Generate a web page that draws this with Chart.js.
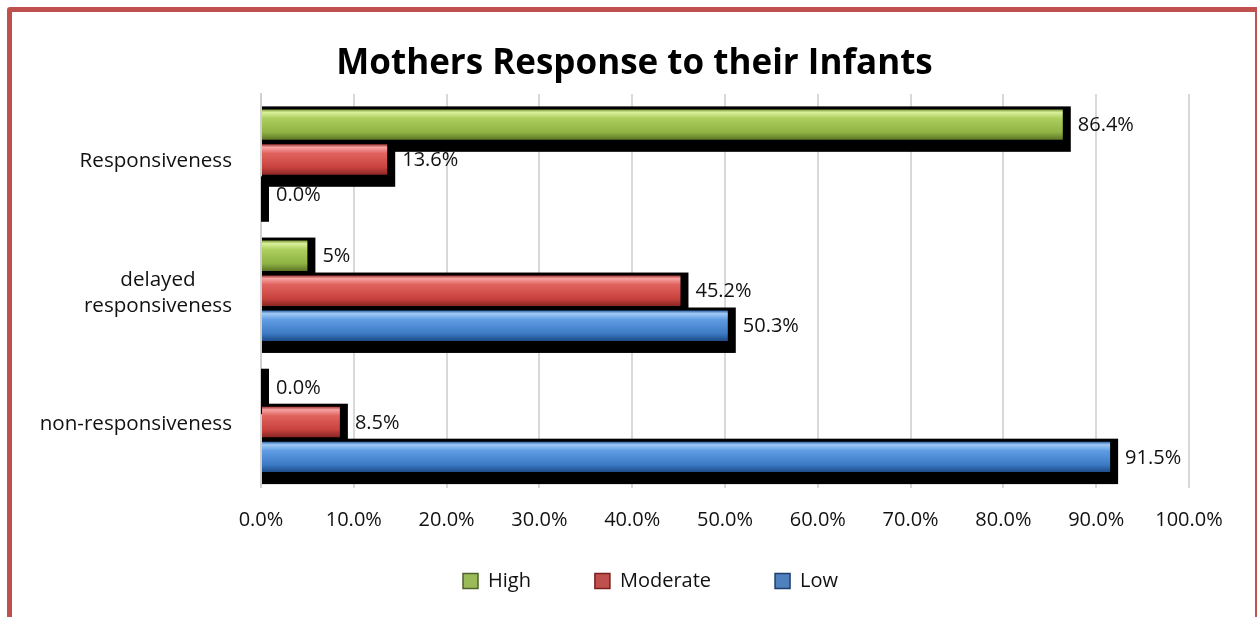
<!DOCTYPE html>
<html><head><meta charset="utf-8">
<script src="https://cdn.jsdelivr.net/npm/chart.js@4.4.1/dist/chart.umd.min.js"></script>
<style>
html,body{margin:0;padding:0;background:#fff;overflow:hidden;}
#wrap{position:relative;width:1257px;height:617px;}
#frame{position:absolute;left:7px;top:7px;width:1253px;height:620px;box-sizing:border-box;border:5px solid #c0504d;border-radius:3px;pointer-events:none;}
canvas{position:absolute;left:0;top:0;}
</style></head><body>
<div id="wrap"><canvas id="c" width="1257" height="617"></canvas><div id="frame"></div></div>
<script>
// ---- data ----
const categories = ['Responsiveness', ['delayed', 'responsiveness'], 'non-responsiveness'];
const seriesNames = ['High', 'Moderate', 'Low'];
const highValues = [86.4, 5, 0.0];
const moderateValues = [13.6, 45.2, 8.5];
const lowValues = [0.0, 50.3, 91.5];
const highLabels = ['86.4%', '5%', '0.0%'];
const moderateLabels = ['13.6%', '45.2%', '8.5%'];
const lowLabels = ['0.0%', '50.3%', '91.5%'];
const xMin = 0, xMax = 100, xStep = 10;
const titleText = 'Mothers Response to their Infants';

// ---- styles ----
const FONT = '"Open Sans", sans-serif';
const styles = {
  High: {color: '#9bbb59', edge: '#4f6228', stops: [[0,'#7f9a3a'],[0.1,'#d9f09a'],[0.3,'#acce5e'],[0.75,'#90b345'],[1,'#5c7526']]},
  Moderate: {color: '#c0504d', edge: '#7a1f1c', stops: [[0,'#a33b38'],[0.1,'#f6a3a1'],[0.3,'#e0625e'],[0.75,'#c9433f'],[1,'#8a2724']]},
  Low: {color: '#4f81bd', edge: '#1f3f6e', stops: [[0,'#2f63a6'],[0.1,'#9fcaf5'],[0.3,'#5f9ce2'],[0.75,'#3d7bc6'],[1,'#1d4c88']]}
};

const valueLists = [highValues, moderateValues, lowValues];
const labelLists = [highLabels, moderateLabels, lowLabels];

const barDecor = {
  id: 'barDecor',
  afterLayout(chart) {
    if (chart.legend) {
      chart.legend.left += 16; chart.legend.right += 16;
      chart.legend.top -= 28.5; chart.legend.bottom -= 28.5;
    }
  },
  beforeDatasetsDraw(chart) {
    const ctx = chart.ctx;
    ctx.save();
    ctx.fillStyle = '#000';
    chart.data.datasets.forEach((ds, di) => {
      chart.getDatasetMeta(di).data.forEach(el => {
        const {x, y, base, height} = el.getProps(['x', 'y', 'base', 'height'], true);
        ctx.fillRect(base, y - height / 2 - 3, x - base + 8, height + 15);
      });
    });
    ctx.restore();
    chart.data.datasets.forEach((ds, di) => {
      const st = styles[ds.label];
      chart.getDatasetMeta(di).data.forEach(el => {
        const {y, height} = el.getProps(['y', 'height'], true);
        const g = ctx.createLinearGradient(0, y - height / 2, 0, y + height / 2);
        st.stops.forEach(([o, c]) => g.addColorStop(o, c));
        el.options = Object.assign({}, el.options, {backgroundColor: g});
      });
    });
  },
  afterDatasetsDraw(chart) {
    const ctx = chart.ctx;
    ctx.save();
    ctx.font = '20px ' + FONT;
    ctx.fillStyle = '#111';
    ctx.textAlign = 'left';
    ctx.textBaseline = 'middle';
    chart.data.datasets.forEach((ds, di) => {
      chart.getDatasetMeta(di).data.forEach((el, i) => {
        const {x, y} = el.getProps(['x', 'y'], true);
        ctx.fillText(labelLists[di][i], x + 15, y + 1);
      });
    });
    ctx.restore();
  },
  afterDraw(chart) {
    const ctx = chart.ctx;
    const ys = chart.scales.y;
    const right = chart.chartArea.left - 29;
    ctx.save();
    ctx.font = '20.6px ' + FONT;
    ctx.fillStyle = '#111';
    ctx.textBaseline = 'middle';
    ctx.textAlign = 'center';
    const lh = 26;
    categories.forEach((lab, i) => {
      const lines = Array.isArray(lab) ? lab : [lab];
      const w = Math.max(...lines.map(l => ctx.measureText(l).width));
      const cx = right - w / 2;
      const cy = ys.getPixelForValue(i) + 2;
      lines.forEach((l, k) => {
        ctx.fillText(l, cx, cy + (k - (lines.length - 1) / 2) * lh);
      });
    });
    ctx.restore();
  }
};

new Chart(document.getElementById('c'), {
  type: 'bar',
  data: {
    labels: categories,
    datasets: seriesNames.map((n, i) => ({
      label: n,
      data: valueLists[i],
      backgroundColor: styles[n].color,
      borderWidth: 0,
      categoryPercentage: 0.8,
      barPercentage: 0.87
    }))
  },
  options: {
    indexAxis: 'y',
    responsive: false,
    animation: false,
    events: [],
    layout: {padding: {top: 22, left: 12, right: 0, bottom: -12.5}},
    scales: {
      x: {
        min: xMin, max: xMax,
        ticks: {stepSize: xStep, padding: 21, color: '#111', font: {family: FONT, size: 20, lineHeight: 1.2},
          callback: v => v.toFixed(1) + '%'},
        grid: {color: '#d9d9d9', lineWidth: 2, drawTicks: false},
        border: {display: false},
        afterFit: s => { s.height = 48; }
      },
      y: {
        ticks: {display: false},
        grid: {display: false},
        border: {display: true, color: '#d0d0d0', width: 2},
        afterFit: s => { s.width = 249; }
      },
      y2: {
        type: 'linear', position: 'right', display: true,
        ticks: {display: false}, grid: {display: false}, border: {display: false},
        afterFit: s => { s.width = 68; }
      }
    },
    plugins: {
      title: {display: true, text: titleText, color: '#000',
        font: {family: FONT, size: 35, weight: 'bold', lineHeight: 1.2},
        padding: {top: 21, bottom: 9}},
      legend: {position: 'bottom',
        labels: {color: '#111', font: {family: FONT, size: 20}, boxWidth: 15, boxHeight: 15, padding: 64,
          generateLabels: chart => Chart.defaults.plugins.legend.labels.generateLabels(chart).map(it => {
            const st = styles[chart.data.datasets[it.datasetIndex].label];
            return Object.assign(it, {strokeStyle: st.edge, lineWidth: 1.5});
          })}},
      tooltip: {enabled: false}
    }
  },
  plugins: [barDecor]
});
</script>
</body></html>
